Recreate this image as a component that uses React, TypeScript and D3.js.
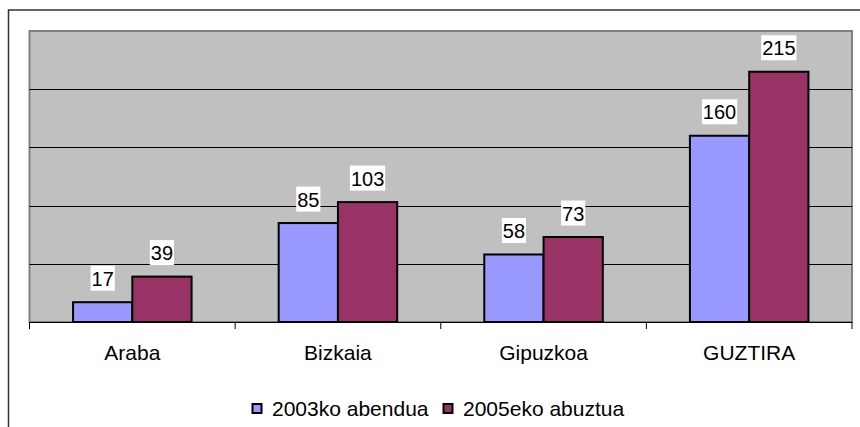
import { useEffect, useRef } from "react";
import * as d3 from "d3";

const categories = ["Araba", "Bizkaia", "Gipuzkoa", "GUZTIRA"];
const seriesNames = ["2003ko abendua", "2005eko abuztua"];
const values2003 = [17, 85, 58, 160];
const values2005 = [39, 103, 73, 215];
const gridTicks = [50, 100, 150, 200];

function App() {
  const svgRef = useRef<SVGSVGElement | null>(null);

  const width = 860;
  const height = 427;

  useEffect(() => {
    document.body.style.margin = "0";
    const svg = d3.select(svgRef.current);
    svg.selectAll("*").remove();

    const left = 29.5;
    const right = 852;
    const top = 31;
    const bottom = 322;
    const font = "Arial, 'Liberation Sans', sans-serif";

    const colors = d3.scaleOrdinal<string, string>().domain(seriesNames).range(["#9999FF", "#993366"]);
    const x0 = d3.scaleBand().domain(categories).range([left, right]).padding(0);
    const x1 = d3.scaleBand().domain(seriesNames).range([0, x0.bandwidth()]).paddingInner(0).paddingOuter(0.735);
    const y = d3.scaleLinear().domain([0, 250]).range([bottom, top]);

    // outer chart frame (runs past the right and bottom edges)
    svg.append("rect")
      .attr("x", 8.5).attr("y", 10)
      .attr("width", 900).attr("height", 500)
      .attr("fill", "white")
      .attr("stroke", "#333")
      .attr("stroke-width", 1.5);

    // plot area
    svg.append("rect")
      .attr("x", left).attr("y", top)
      .attr("width", right - left).attr("height", bottom - top)
      .attr("fill", "#C0C0C0")
      .attr("stroke", "#808080")
      .attr("stroke-width", 2);

    svg.append("g")
      .selectAll("line")
      .data(gridTicks)
      .join("line")
      .attr("x1", left).attr("x2", right)
      .attr("y1", (d) => Math.round(y(d)) + 0.5)
      .attr("y2", (d) => Math.round(y(d)) + 0.5)
      .attr("stroke", "#000")
      .attr("stroke-width", 1);

    const rows = categories.map((c, i) => ({ cat: c, vals: [values2003[i], values2005[i]] }));

    const groups = svg.append("g")
      .selectAll("g")
      .data(rows)
      .join("g")
      .attr("transform", (d) => `translate(${x0(d.cat)},0)`);

    groups.selectAll("rect")
      .data((d) => d.vals.map((v, j) => ({ key: seriesNames[j], v })))
      .join("rect")
      .attr("x", (d) => x1(d.key)!)
      .attr("y", (d) => y(d.v))
      .attr("width", x1.bandwidth())
      .attr("height", (d) => bottom - y(d.v))
      .attr("fill", (d) => colors(d.key))
      .attr("stroke", "#000")
      .attr("stroke-width", 2);

    // value labels on white boxes
    const labels = groups.selectAll("g.lbl")
      .data((d) => d.vals.map((v, j) => ({ key: seriesNames[j], v })))
      .join("g")
      .attr("class", "lbl")
      .attr("transform", (d) => `translate(${x1(d.key)! + x1.bandwidth() / 2},${y(d.v) - 16.5})`);

    labels.append("rect")
      .attr("x", (d) => -(String(d.v).length * 11.1) / 2 - 1)
      .attr("y", -20)
      .attr("width", (d) => String(d.v).length * 11.1 + 2)
      .attr("height", 25)
      .attr("fill", "white");

    labels.append("text")
      .attr("text-anchor", "middle")
      .attr("font-family", font)
      .attr("font-size", 20)
      .attr("fill", "#000")
      .text((d) => d.v);

    // x axis
    svg.append("line")
      .attr("x1", left).attr("x2", right)
      .attr("y1", bottom + 0.5).attr("y2", bottom + 0.5)
      .attr("stroke", "#000").attr("stroke-width", 1);

    const bounds = categories.map((c) => x0(c)!).concat([right]);
    svg.append("g")
      .selectAll("line")
      .data(bounds)
      .join("line")
      .attr("x1", (d) => d).attr("x2", (d) => d)
      .attr("y1", bottom).attr("y2", bottom + 7)
      .attr("stroke", "#000").attr("stroke-width", 1);

    svg.append("g")
      .selectAll("text")
      .data(categories)
      .join("text")
      .attr("x", (d) => x0(d)! + x0.bandwidth() / 2)
      .attr("y", 360)
      .attr("text-anchor", "middle")
      .attr("font-family", font)
      .attr("font-size", 21)
      .attr("fill", "#000")
      .text((d) => d);

    // legend
    const legendX = [252.5, 443.5];
    const legend = svg.append("g")
      .selectAll("g")
      .data(seriesNames)
      .join("g")
      .attr("transform", (d, i) => `translate(${legendX[i]},404)`);

    legend.append("rect")
      .attr("x", 0).attr("y", 0)
      .attr("width", 9).attr("height", 9)
      .attr("fill", (d) => colors(d))
      .attr("stroke", "#000")
      .attr("stroke-width", 2);

    legend.append("text")
      .attr("x", 19.5)
      .attr("y", 12)
      .attr("font-family", font)
      .attr("font-size", 21)
      .attr("fill", "#000")
      .text((d) => d);
  }, []);

  return (
    <svg width={width} height={height} ref={svgRef} style={{ display: "block" }}></svg>
  );
}

export default App;
